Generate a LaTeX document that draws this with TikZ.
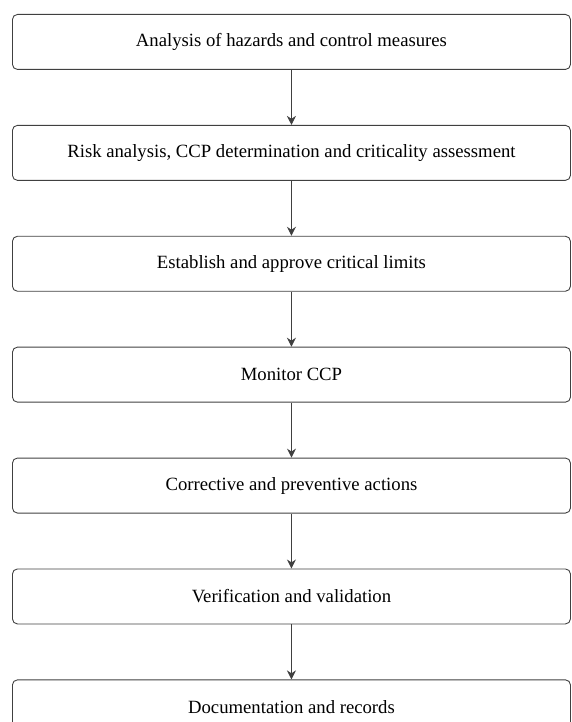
\documentclass[tikz,border=0pt]{standalone}
\usepackage{fontspec}
\setmainfont{Liberation Serif}
\usepackage{xcolor}
\usetikzlibrary{arrows.meta,positioning}

\begin{document}
\begin{tikzpicture}[
    x=1pt, y=1pt,
    node distance=55pt,
    stepbox/.style={draw=black!75, line width=0.9pt, rounded corners=5pt, align=center, minimum height=55pt, minimum width=558pt, inner sep=0pt, font=\fontsize{18.7}{21}\selectfont},
    arrow/.style={-{Stealth[length=9pt,width=9pt]}, draw=black!75, line width=0.9pt}
]
    \useasboundingbox (0,0) rectangle (571,-722);
    \node[stepbox, anchor=north west] (hazards) at (12,-14) {Analysis of hazards and control measures};
    \node[stepbox, below=of hazards] (risk) {Risk analysis, CCP determination and criticality assessment};
    \node[stepbox, below=of risk] (limits) {Establish and approve critical limits};
    \node[stepbox, below=of limits] (monitor) {Monitor CCP};
    \node[stepbox, below=of monitor] (actions) {Corrective and preventive actions};
    \node[stepbox, below=of actions] (verify) {Verification and validation};
    \node[stepbox, below=of verify] (records) {Documentation and records};

    \draw[arrow] (hazards) -- (risk);
    \draw[arrow] (risk) -- (limits);
    \draw[arrow] (limits) -- (monitor);
    \draw[arrow] (monitor) -- (actions);
    \draw[arrow] (actions) -- (verify);
    \draw[arrow] (verify) -- (records);
\end{tikzpicture}
\end{document}
